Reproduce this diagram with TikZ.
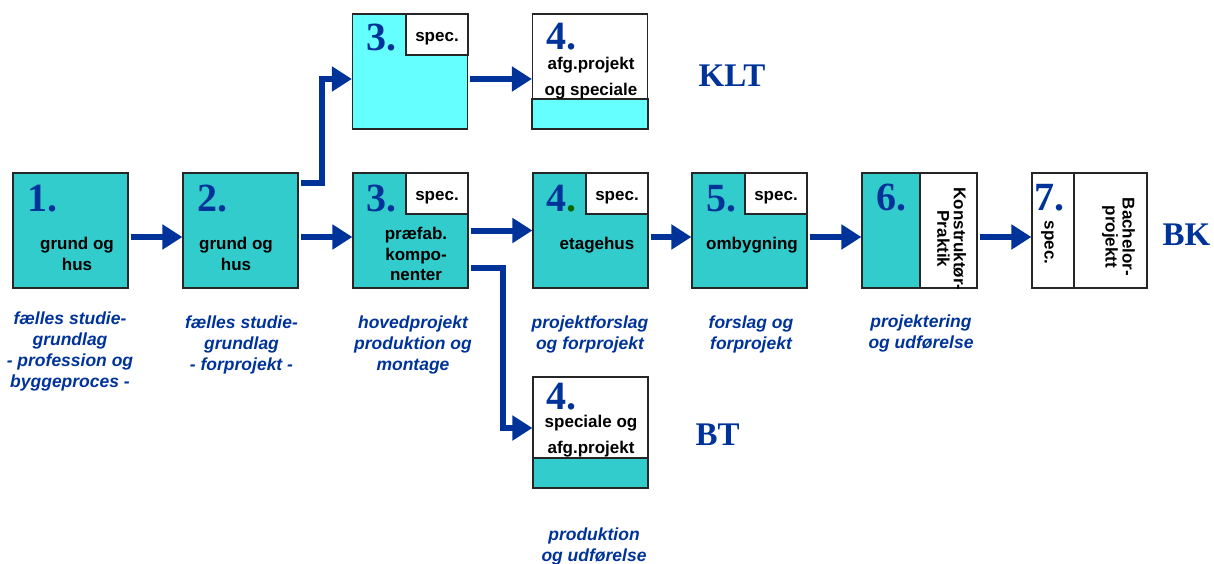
\documentclass[tikz,border=0pt]{standalone}
\usepackage{fontspec}
\setmainfont{Liberation Sans}
\newfontfamily\numfont{Liberation Serif}
\usetikzlibrary{arrows.meta}
\definecolor{teal1}{HTML}{33CCCC}
\definecolor{cyan1}{HTML}{66FFFF}
\definecolor{navy1}{HTML}{003399}
\definecolor{dotgreen}{HTML}{006600}
\tikzset{
  box/.style={draw=black!85, line width=1.2pt, inner sep=0pt, minimum width=115pt, minimum height=115pt},
  sbox/.style={draw=black!85, line width=1.2pt, fill=white, inner sep=0pt, minimum width=62pt, minimum height=41pt},
  arr/.style={navy1, line width=6pt, -{Triangle[length=20pt,width=24pt]}},
  num/.style={anchor=base west, inner sep=0pt, text depth=0pt, text=navy1, font=\numfont\bfseries\fontsize{40}{40}\selectfont},
  txt/.style={font=\bfseries\fontsize{17}{21}\selectfont, align=center, inner sep=0pt},
  lab/.style={font=\bfseries\itshape\fontsize{17.5}{21}\selectfont, text=navy1, align=center, inner sep=0pt},
  prog/.style={font=\numfont\bfseries\fontsize{33}{33}\selectfont, text=navy1, inner sep=0pt},
}
\begin{document}
\begin{tikzpicture}[x=1pt,y=-1pt]
\useasboundingbox (0,0) rectangle (1214,564);
% main row boxes
\node[box, fill=teal1] (b1) at (70.5,230.5) {};
\node[box, fill=teal1] (b2) at (240.5,230.5) {};
\node[box, fill=teal1] (b3) at (410.5,230.5) {};
\node[sbox] (s3) at (437,193.5) {};
\node[box, fill=teal1] (b4) at (590.5,230.5) {};
\node[sbox] (s4) at (617,193.5) {};
\node[box, fill=teal1] (b5) at (749.5,230.5) {};
\node[sbox] (s5) at (776,193.5) {};
\node[box, fill=teal1, minimum width=58pt] (b6a) at (891,230.5) {};
\node[box, fill=white, minimum width=57pt] (b6b) at (948.5,230.5) {};
\node[box, fill=white, minimum width=42pt] (b7a) at (1053,230.5) {};
\node[box, fill=white, minimum width=73pt] (b7b) at (1110.5,230.5) {};
% KLT row
\node[box, fill=cyan1] (t3) at (410,71.5) {};
\node[sbox] (ts3) at (437,34.5) {};
\node[box, fill=white] (t4) at (590,71.5) {};
\node[draw=black!85, line width=1.2pt, fill=cyan1, inner sep=0pt, minimum width=116pt, minimum height=30pt] (t4s) at (590,114) {};
% BT box
\node[box, fill=white, minimum height=111pt] (bt) at (590.5,432.5) {};
\node[draw=black!85, line width=1.2pt, fill=teal1, inner sep=0pt, minimum width=115pt, minimum height=30pt] (bts) at (590.5,473) {};
% numbers
\node[num] (n1) at (27,211) {1.};
\node[num] (n2) at (197,211) {2.};
\node[num] (n3) at (366,211) {3.};
\node[num] (n4) at (546,211) {4\textcolor{dotgreen}{.}};
\node[num] (n5) at (706,211) {5.};
\node[num] (n6) at (876,210) {6.};
\node[num] (n7) at (1034,210) {7.};
\node[num] (nt3) at (366,51) {3.};
\node[num] (nt4) at (546,50) {4.};
\node[num] (nbt) at (546,409) {4.};
% box texts
\node[txt] (x1) at (77,254.4) {grund og\\hus};
\node[txt] (x2) at (236,254.4) {grund og\\hus};
\node[txt, font=\bfseries\fontsize{17}{20.5}\selectfont] (x3) at (416,254.4) {præfab.\\kompo-\\nenter};
\node[txt] (x4) at (597,245.5) {etagehus};
\node[txt] (x5) at (752,245.5) {ombygning};
\node[txt] (xs3) at (437,197.5) {spec.};
\node[txt] (xs4) at (617,197.5) {spec.};
\node[txt] (xs5) at (776,197.5) {spec.};
\node[txt] (xts3) at (437,38.5) {spec.};
\node[txt, font=\bfseries\fontsize{17}{25.5}\selectfont] (xt4) at (591,78) {afg.projekt\\og speciale};
\node[txt, font=\bfseries\fontsize{17}{26}\selectfont] (xbt) at (591,436) {speciale og\\afg.projekt};
\node[txt, rotate=-90, font=\bfseries\fontsize{17}{16.7}\selectfont] (x6) at (951.7,239) {Konstruktør-\\Praktik};
\node[txt, rotate=-90] (x7a) at (1047.5,242.5) {spec.};
\node[txt, rotate=-90, font=\bfseries\fontsize{17}{17}\selectfont] (x7b) at (1118.5,237) {Bachelor-\\projektt};
% program labels
\node[prog] (klt) at (732,75.5) {KLT};
\node[prog] (btl) at (717.5,435) {BT};
\node[prog] (bkl) at (1186.5,235) {BK};
% italic labels
\node[lab] (l1) at (70,351) {fælles studie-\\grundlag\\- profession og\\byggeproces -};
\node[lab] (l2) at (241.5,345) {fælles studie-\\grundlag\\- forprojekt -};
\node[lab] (l3) at (413,345) {hovedprojekt\\produktion og\\montage};
\node[lab] (l4) at (590,334.5) {projektforslag\\og forprojekt};
\node[lab] (l5) at (751,334.5) {forslag og\\forprojekt};
\node[lab] (l6) at (921,333.5) {projektering\\og udførelse};
\node[lab] (l7) at (594,546) {produktion\\og udførelse};
% arrows
\draw[arr] ([xshift=2pt,yshift=-6.5pt]b1.east) -- ([yshift=-6.5pt]b2.west);
\draw[arr] ([xshift=2pt,yshift=-6.5pt]b2.east) -- ([yshift=-6.5pt]b3.west);
\coordinate (j1) at (322,79);
\draw[arr] ([xshift=2pt,yshift=47.5pt]b2.east) -| (j1) -- (t3.west |- j1);
\draw[arr] ([xshift=2pt,yshift=-7.5pt]t3.east) -- ([yshift=-7.5pt]t4.west);
\draw[arr] ([xshift=2pt]b3.east) -- (b4.west);
\coordinate (j2) at (503,428);
\draw[arr] ([xshift=2pt,yshift=-37.5pt]b3.east) -| (j2) -- (bt.west |- j2);
\draw[arr] ([xshift=2pt,yshift=-6.5pt]b4.east) -- ([yshift=-6.5pt]b5.west);
\draw[arr] ([xshift=2pt,yshift=-6.5pt]b5.east) -- ([yshift=-6.5pt]b6a.west);
\draw[arr] ([xshift=2pt,yshift=-6.5pt]b6b.east) -- ([yshift=-6.5pt]b7a.west);
\end{tikzpicture}
\end{document}
